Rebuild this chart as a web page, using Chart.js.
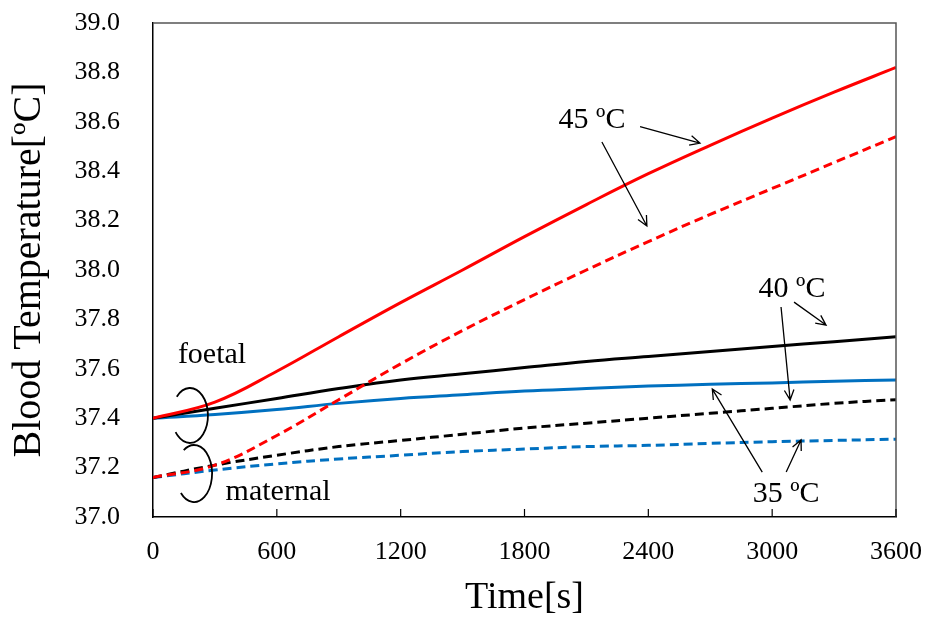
<!DOCTYPE html>
<html>
<head>
<meta charset="utf-8">
<script src="https://cdn.jsdelivr.net/npm/chart.js@4.4.1/dist/chart.umd.min.js"></script>
<style>
    html, body { margin: 0; padding: 0; background: #fff; }
    #wrap { width: 933px; height: 624px; }
</style>
</head>
<body>
<div id="wrap"><canvas id="bloodChart"></canvas></div>
<script>
// time points [s]
const times = [0, 300, 600, 900, 1200, 1500, 1800, 2100, 2400, 2700, 3000, 3300, 3600];

// foetal blood temperature [ºC]
const foetal45 = [37.40, 37.465, 37.59, 37.73, 37.868, 38.00, 38.135, 38.265, 38.39, 38.505, 38.615, 38.72, 38.82];
const foetal40 = [37.40, 37.44, 37.48, 37.52, 37.555, 37.58, 37.605, 37.63, 37.65, 37.67, 37.69, 37.71, 37.73];
const foetal35 = [37.40, 37.415, 37.435, 37.46, 37.48, 37.495, 37.51, 37.52, 37.53, 37.537, 37.543, 37.55, 37.555];

// maternal blood temperature [ºC]
const maternal45 = [37.16, 37.21, 37.33, 37.475, 37.62, 37.755, 37.88, 38.00, 38.115, 38.225, 38.33, 38.435, 38.54];
const maternal40 = [37.16, 37.21, 37.25, 37.285, 37.31, 37.335, 37.36, 37.38, 37.40, 37.42, 37.44, 37.46, 37.475];
const maternal35 = [37.16, 37.19, 37.215, 37.235, 37.25, 37.265, 37.275, 37.285, 37.29, 37.298, 37.305, 37.31, 37.315];

const xTickValues = [0, 600, 1200, 1800, 2400, 3000, 3600];

const serif = "'Liberation Serif', 'Times New Roman', serif";

function pts(values) {
    return times.map((t, i) => ({x: t, y: values[i]}));
}

function series(label, values, color, dashed) {
    return {
        label: label,
        data: pts(values),
        borderColor: color,
        backgroundColor: color,
        borderWidth: 3,
        borderDash: dashed ? [9, 5] : [],
        pointRadius: 0,
        fill: false,
        tension: 0.4
    };
}

// fixed box: drop the label overhang padding Chart.js adds
function fixBox(size) {
    return s => {
        if (s.isHorizontal()) s.height = size; else s.width = size;
        s.paddingTop = 0;
        s.paddingBottom = 0;
        s.paddingLeft = 0;
        s.paddingRight = 0;
    };
}

// text and arrows laid on top of the plot, placed in data units
const notes = [
    {text: '45 ºC', t: 2127, v: 38.575},
    {text: '40 ºC', t: 3096, v: 37.891},
    {text: '35 ºC', t: 3068, v: 37.061},
    {text: 'foetal', t: 286, v: 37.623},
    {text: 'maternal', t: 606, v: 37.069}
];
const arrows = [
    {from: [2360, 38.58], to: [2650, 38.514]},
    {from: [2175, 38.518], to: [2393, 38.178]},
    {from: [3106, 37.870], to: [3261, 37.777]},
    {from: [3043, 37.850], to: [3087, 37.474]},
    {from: [2952, 37.182], to: [2710, 37.518]},
    {from: [3068, 37.182], to: [3140, 37.312]}
];
const loops = [
    {t: 179, v: 37.411, rx: 18, ry: 27.5, a0: Math.PI + 0.75, a1: Math.PI - 0.65},
    {t: 199, v: 37.176, rx: 18, ry: 28.5, a0: Math.PI + 0.96, a1: Math.PI - 0.75}
];

const frame = {
    id: 'frame',
    afterDatasetsDraw(chart) {
        const {ctx, chartArea: a, scales: {x, y}} = chart;
        ctx.save();
        // top and right edge of the box
        ctx.strokeStyle = '#555';
        ctx.lineWidth = 1.5;
        ctx.beginPath();
        ctx.moveTo(a.left, a.top);
        ctx.lineTo(a.right, a.top);
        ctx.lineTo(a.right, a.bottom);
        ctx.stroke();

        // inward ticks on the time axis
        ctx.strokeStyle = '#000';
        ctx.lineWidth = 1.2;
        xTickValues.forEach(t => {
            const px = x.getPixelForValue(t);
            ctx.beginPath();
            ctx.moveTo(px, a.bottom);
            ctx.lineTo(px, a.bottom - 8);
            ctx.stroke();
        });

        // labels
        ctx.fillStyle = '#000';
        ctx.font = '30px ' + serif;
        ctx.textAlign = 'center';
        ctx.textBaseline = 'alphabetic';
        notes.forEach(n => {
            ctx.fillText(n.text, x.getPixelForValue(n.t), y.getPixelForValue(n.v));
        });

        // arrows
        ctx.lineWidth = 1.3;
        arrows.forEach(ar => {
            const x1 = x.getPixelForValue(ar.from[0]), y1 = y.getPixelForValue(ar.from[1]);
            const x2 = x.getPixelForValue(ar.to[0]), y2 = y.getPixelForValue(ar.to[1]);
            const ang = Math.atan2(y2 - y1, x2 - x1);
            ctx.beginPath();
            ctx.moveTo(x1, y1);
            ctx.lineTo(x2, y2);
            ctx.moveTo(x2 - 11 * Math.cos(ang - 0.45), y2 - 11 * Math.sin(ang - 0.45));
            ctx.lineTo(x2, y2);
            ctx.lineTo(x2 - 11 * Math.cos(ang + 0.45), y2 - 11 * Math.sin(ang + 0.45));
            ctx.stroke();
        });

        // curls marking foetal / maternal starting points
        ctx.lineWidth = 1.8;
        loops.forEach(l => {
            ctx.beginPath();
            ctx.ellipse(x.getPixelForValue(l.t), y.getPixelForValue(l.v), l.rx, l.ry, 0, l.a0, l.a1);
            ctx.stroke();
        });
        ctx.restore();
    }
};

new Chart(document.getElementById('bloodChart'), {
    type: 'line',
    data: {
        datasets: [
            series('foetal 45 ºC', foetal45, '#FF0000', false),
            series('maternal 45 ºC', maternal45, '#FF0000', true),
            series('foetal 40 ºC', foetal40, '#000000', false),
            series('maternal 40 ºC', maternal40, '#000000', true),
            series('foetal 35 ºC', foetal35, '#0070C0', false),
            series('maternal 35 ºC', maternal35, '#0070C0', true)
        ]
    },
    options: {
        responsive: true,
        maintainAspectRatio: false,
        animation: false,
        devicePixelRatio: 1,
        layout: {
            padding: {left: 0, top: 23, right: 37, bottom: 0}
        },
        scales: {
            x: {
                type: 'linear',
                min: 0,
                max: 3600,
                afterFit: fixBox(107),
                grid: {display: false, drawTicks: false},
                border: {display: true, color: '#000', width: 1.5},
                ticks: {
                    stepSize: 600,
                    maxRotation: 0,
                    padding: 20,
                    color: '#000',
                    font: {family: serif, size: 26},
                    callback: v => String(v)
                },
                title: {
                    display: true,
                    text: 'Time[s]',
                    color: '#000',
                    font: {family: serif, size: 38},
                    padding: {top: 0, bottom: 3}
                }
            },
            y: {
                min: 37,
                max: 39,
                afterFit: fixBox(153),
                grid: {display: false, drawTicks: false},
                border: {display: true, color: '#000', width: 1.5},
                ticks: {
                    stepSize: 0.2,
                    padding: 33,
                    color: '#000',
                    font: {family: serif, size: 26},
                    callback: v => v.toFixed(1)
                },
                title: {
                    display: true,
                    text: 'Blood Temperature[ºC]',
                    color: '#000',
                    font: {family: serif, size: 40},
                    padding: {top: 5, bottom: 0}
                }
            }
        },
        plugins: {
            legend: {display: false},
            tooltip: {enabled: false}
        }
    },
    plugins: [frame]
});
</script>
</body>
</html>
